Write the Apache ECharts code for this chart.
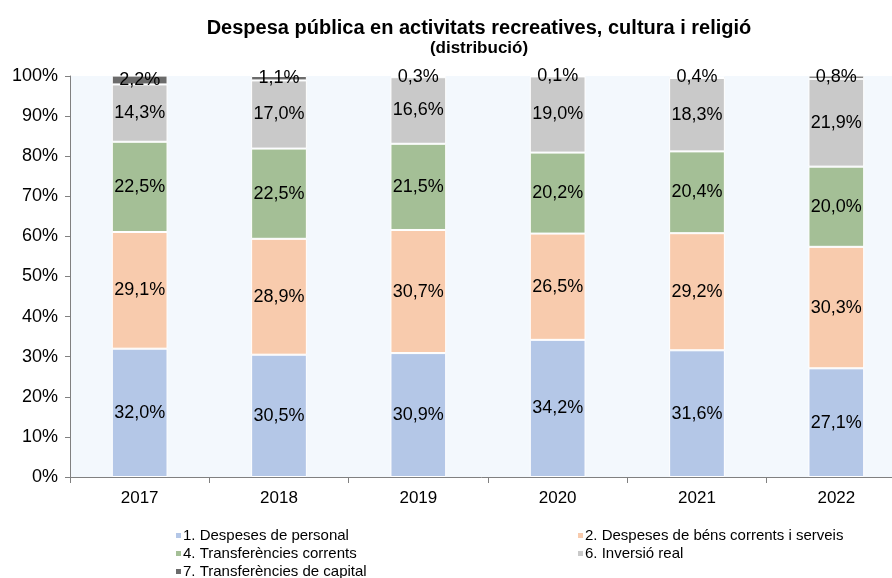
<!DOCTYPE html>
<html>
<head>
<meta charset="utf-8">
<script src="https://cdn.jsdelivr.net/npm/echarts@6/dist/echarts.min.js"></script>
<style>
  html, body { margin: 0; padding: 0; background: #ffffff; }
  #chart { width: 892px; height: 578px; }
</style>
</head>
<body>
<div id="chart"></div>
<script>
  const years = ['2017', '2018', '2019', '2020', '2021', '2022'];
  const personal = [32.0, 30.5, 30.9, 34.2, 31.6, 27.1];
  const bens = [29.1, 28.9, 30.7, 26.5, 29.2, 30.3];
  const transfCorrents = [22.5, 22.5, 21.5, 20.2, 20.4, 20.0];
  const inversio = [14.3, 17.0, 16.6, 19.0, 18.3, 21.9];
  const transfCapital = [2.2, 1.1, 0.3, 0.1, 0.4, 0.8];
  const yTicks = [0, 10, 20, 30, 40, 50, 60, 70, 80, 90, 100];

  const font = 'Liberation Sans, Arial, sans-serif';
  const fmt = v => v.toFixed(1).replace('.', ',') + '%';

  function bar(name, data, color) {
    return {
      name: name,
      type: 'bar',
      stack: 'total',
      barWidth: '40%',
      data: data,
      itemStyle: {color: color, borderColor: '#ffffff', borderWidth: 1},
      label: {
        show: true,
        position: 'inside',
        color: '#000000',
        fontFamily: font,
        fontSize: 18,
        formatter: p => fmt(p.value)
      }
    }
  }

  // one legend per entry, laid out in two columns like the original
  function legendItem(name, left, top) {
    return {
      left: left,
      top: top,
      padding: 0,
      itemWidth: 7,
      itemHeight: 7,
      icon: 'rect',
      data: [name],
      textStyle: {fontFamily: font, fontSize: 15, color: '#000000', padding: [0, 0, 0, -4]}
    }
  }

  const chart = echarts.init(document.getElementById('chart'));
  chart.setOption({
    backgroundColor: '#ffffff',
    animation: false,
    title: [{
      text: 'Despesa pública en activitats recreatives, cultura i religió',
      left: 474,
      top: 13,
      textAlign: 'center',
      textStyle: {fontFamily: font, fontSize: 20, fontWeight: 'bold', color: '#000000'}
    }, {
      text: '(distribució)',
      left: 474,
      top: 35,
      textAlign: 'center',
      textStyle: {fontFamily: font, fontSize: 17, fontWeight: 'bold', color: '#000000'}
    }],
    legend: [
      legendItem('1. Despeses de personal', 174, 528),
      legendItem('4. Transferències corrents', 174, 546),
      legendItem('7. Transferències de capital', 174, 564),
      legendItem('2. Despeses de béns corrents i serveis', 576, 528),
      legendItem('6. Inversió real', 576, 546)
    ],
    grid: {
      left: 70,
      top: 76,
      width: 836,
      bottom: 101,
      outerBoundsMode: 'none',
      show: true,
      backgroundColor: '#f3f8fd',
      borderWidth: 0
    },
    xAxis: {
      type: 'category',
      data: years,
      axisLine: {lineStyle: {color: '#808080'}},
      axisTick: {show: true, length: 6, lineStyle: {color: '#808080'}},
      axisLabel: {fontFamily: font, fontSize: 17, color: '#000000', margin: 13}
    },
    yAxis: {
      type: 'value',
      min: yTicks[0],
      max: yTicks[yTicks.length - 1],
      interval: 10,
      axisLine: {show: true, lineStyle: {color: '#808080'}},
      axisTick: {show: true, length: 5, lineStyle: {color: '#808080'}},
      splitLine: {show: false},
      axisLabel: {fontFamily: font, fontSize: 18, color: '#000000', margin: 12, formatter: '{value}%'}
    },
    series: [
      bar('1. Despeses de personal', personal, '#b4c7e7'),
      bar('2. Despeses de béns corrents i serveis', bens, '#f8cbad'),
      bar('4. Transferències corrents', transfCorrents, '#a4bf96'),
      bar('6. Inversió real', inversio, '#c9c9c9'),
      bar('7. Transferències de capital', transfCapital, '#6b6b6b')
    ]
  });
</script>
</body>
</html>
